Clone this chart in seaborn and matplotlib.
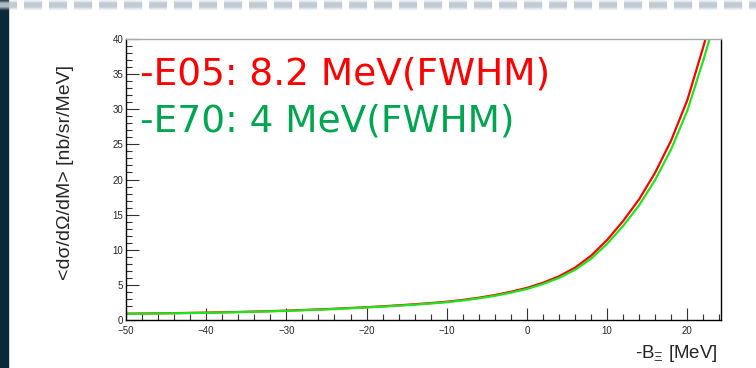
import numpy as np
import pandas as pd
import matplotlib
matplotlib.use("Agg")
import matplotlib.pyplot as plt
import seaborn as sns
from matplotlib.lines import Line2D
from matplotlib.ticker import MultipleLocator

# Binding energy axis (-B_Xi, MeV)
energy = [-50, -45, -40, -35, -30, -25, -20, -18, -16, -14, -12, -10, -8, -6,
          -4, -2, 0, 2, 4, 6, 8, 10, 12, 14, 16, 18, 20, 22, 23]

# Averaged cross section, E05 resolution (8.2 MeV FWHM)
xs_e05 = [0.90, 0.96, 1.05, 1.17, 1.33, 1.55, 1.82, 1.95, 2.09, 2.24, 2.41,
          2.60, 2.86, 3.17, 3.55, 4.02, 4.57, 5.30, 6.22, 7.45, 9.15, 11.4,
          14.1, 17.2, 21.0, 25.6, 31.3, 38.9, 43.0]

# Averaged cross section, E70 resolution (4 MeV FWHM)
xs_e70 = [0.88, 0.94, 1.02, 1.14, 1.30, 1.51, 1.78, 1.90, 2.04, 2.18, 2.35,
          2.53, 2.78, 3.08, 3.44, 3.89, 4.42, 5.12, 5.99, 7.14, 8.72, 10.85,
          13.4, 16.35, 19.97, 24.35, 29.8, 37.0, 40.9]

labels = ["-E05: 8.2 MeV(FWHM)", "-E70: 4 MeV(FWHM)"]
x_ticks = [-50, -40, -30, -20, -10, 0, 10, 20]
y_ticks = [0, 5, 10, 15, 20, 25, 30, 35, 40]

df = pd.DataFrame({
    "energy": energy * 2,
    "xs": xs_e05 + xs_e70,
    "exp": ["E05"] * len(energy) + ["E70"] * len(energy),
})

sns.set_style("white")
plt.rcParams["font.family"] = ["Liberation Sans", "DejaVu Sans"]
plt.rcParams["mathtext.fontset"] = "custom"
plt.rcParams["mathtext.rm"] = "Liberation Sans"
plt.rcParams["mathtext.it"] = "Liberation Sans"

fig = plt.figure(figsize=(7.56, 3.68), dpi=100)
fig.patch.set_facecolor("white")

# slide decorations: dark strip on the left and a soft dashed band on top
fig.add_artist(plt.Rectangle((0, 0), 8 / 756, 1, transform=fig.transFigure,
                             color="#0b2838", zorder=0))
dash_on, dash_off = 13.0, 5.0  # points
for lw, a in [(7.5, 0.18), (6, 0.3), (4.5, 0.5), (3, 0.75)]:
    fig.add_artist(Line2D([-0.01, 1.0], [1 - 5 / 368, 1 - 5 / 368],
                          transform=fig.transFigure, color="#bcc7cf",
                          lw=lw, alpha=a, solid_capstyle="butt",
                          dashes=(dash_on / lw, dash_off / lw)))

ax = fig.add_axes([126 / 756, 48 / 368, 595 / 756, 281 / 368])

sns.lineplot(data=df, x="energy", y="xs", hue="exp",
             palette={"E05": "#ff0000", "E70": "#1ee61e"},
             linewidth=1.6, legend=False, ax=ax)

ax.set_xlim(-50, 24.2)
ax.set_ylim(0, 40)
ax.set_xticks(x_ticks)
ax.set_yticks(y_ticks)
ax.xaxis.set_minor_locator(MultipleLocator(2))
ax.yaxis.set_minor_locator(MultipleLocator(1))
ax.tick_params(axis="both", which="major", direction="in", length=9,
               width=0.8, labelsize=7, color="#333333")
ax.tick_params(axis="x", which="major", pad=4)
ax.tick_params(axis="y", which="major", pad=2)
ax.tick_params(axis="both", which="minor", direction="in", length=4.5,
               width=0.8, color="#333333")
ax.tick_params(axis="x", which="both", top=False, bottom=True)
ax.tick_params(axis="y", which="both", left=True, right=False)

for side in ["left", "bottom", "right"]:
    ax.spines[side].set_color("black")
    ax.spines[side].set_linewidth(1.0)
ax.spines["top"].set_color("#aaaaaa")
ax.spines["top"].set_linewidth(1.0)

ax.set_xlabel("")
ax.set_ylabel("")

fig.text(65 / 756, 1 - 172 / 368, "<dσ/dΩ/dM> [nb/sr/MeV]", rotation=90,
         ha="center", va="center", fontsize=14)
fig.text(718 / 756, 1 - 353 / 368, r"-B$_{\Xi}$ [MeV]", ha="right",
         va="center", fontsize=13.5)

ax.text(0.024, 0.872, labels[0], transform=ax.transAxes, color="#ff0000",
        fontsize=27, ha="left", va="center", family="DejaVu Sans")
ax.text(0.024, 0.705, labels[1], transform=ax.transAxes, color="#00a64f",
        fontsize=27, ha="left", va="center", family="DejaVu Sans")

fig.savefig("out.png", dpi=100)
